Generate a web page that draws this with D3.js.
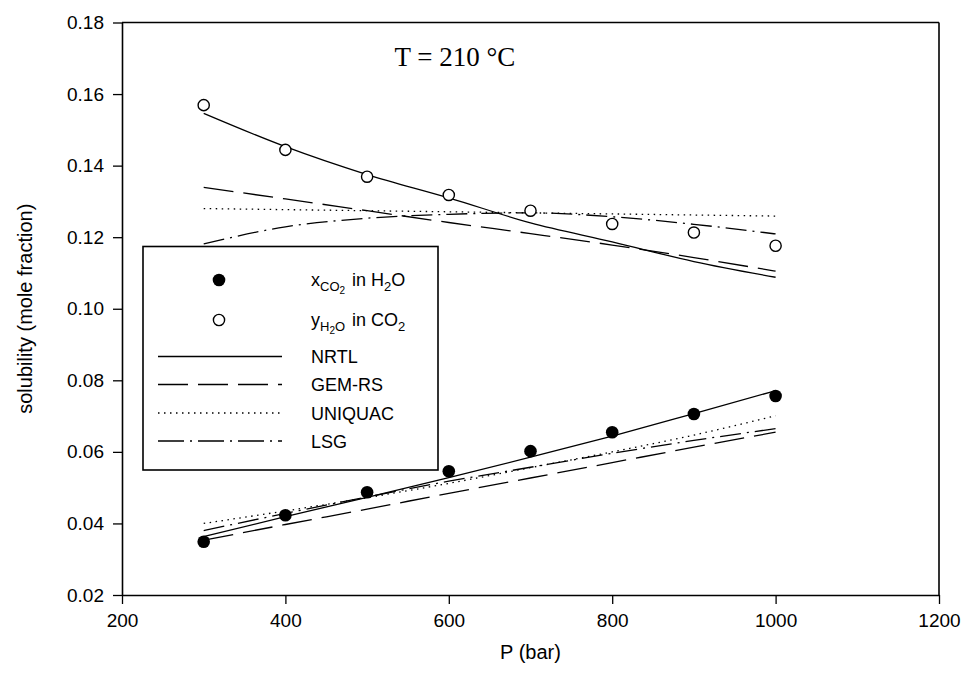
<!DOCTYPE html>
<html>
<head>
<meta charset="utf-8">
<script src="https://cdn.jsdelivr.net/npm/d3@7"></script>
<style>
  html, body { margin: 0; padding: 0; background: #fff; }
  svg { display: block; }
  text { fill: #000; }
  .sans { font-family: "Liberation Sans", Arial, sans-serif; }
  .serif { font-family: "Liberation Serif", "Times New Roman", serif; }
</style>
</head>
<body>
<svg id="chart" width="969" height="692"></svg>
<script>
// Pressure grid (bar) shared by measurements and model curves
const pressures = [300, 400, 500, 600, 700, 800, 900, 1000];

// Measured solubilities
const xCO2inH2O = [0.0349, 0.0423, 0.0487, 0.0546, 0.0602, 0.0655, 0.0706, 0.0756];
const yH2OinCO2 = [0.1569, 0.1444, 0.1369, 0.1318, 0.1274, 0.1237, 0.1213, 0.1176];

// Model predictions, water-rich phase (x CO2)
const nrtlX    = [0.0363, 0.0419, 0.0473, 0.0528, 0.0585, 0.0644, 0.0707, 0.0771];
const gemrsX   = [0.0353, 0.0397, 0.0440, 0.0484, 0.0527, 0.0570, 0.0613, 0.0655];
const uniquacX = [0.0400, 0.0435, 0.0472, 0.0512, 0.0556, 0.0600, 0.0647, 0.0701];
const lsgX     = [0.0380, 0.0428, 0.0474, 0.0518, 0.0557, 0.0596, 0.0632, 0.0665];

// Model predictions, CO2-rich phase (y H2O)
const nrtlY    = [0.1546, 0.1453, 0.1375, 0.1310, 0.1240, 0.1187, 0.1132, 0.1088];
const gemrsY   = [0.1339, 0.1307, 0.1274, 0.1241, 0.1210, 0.1178, 0.1143, 0.1105];
const uniquacY = [0.1280, 0.1277, 0.1274, 0.1271, 0.1268, 0.1265, 0.1262, 0.1259];
const lsgY     = [0.1181, 0.1229, 0.1253, 0.1264, 0.1268, 0.1257, 0.1236, 0.1209];

// Axis ticks
const xTicks = [200, 400, 600, 800, 1000, 1200];
const yTicks = [0.02, 0.04, 0.06, 0.08, 0.10, 0.12, 0.14, 0.16, 0.18];

const svg = d3.select("#chart");
const plotLeft = 122, plotRight = 939, plotTop = 22.5, plotBottom = 595;

const x = d3.scaleLinear().domain([200, 1200]).range([plotLeft, plotRight]);
const y = d3.scaleLinear().domain([0.02, 0.18]).range([plotBottom, plotTop]);

// Line styles for each model
const models = [
  { name: "NRTL",    dash: null,        legendDash: null,        xs: nrtlX,    ys: nrtlY },
  { name: "GEM-RS",  dash: "30,10",     legendDash: "30,10",     xs: gemrsX,   ys: gemrsY },
  { name: "UNIQUAC", dash: "1.5,4.5",   legendDash: "1.5,4.5",   xs: uniquacX, ys: uniquacY },
  { name: "LSG",     dash: "21,6,2,6",  legendDash: "26,6,2,6",  xs: lsgX,     ys: lsgY }
];

const line = d3.line()
  .x(d => x(d[0]))
  .y(d => y(d[1]))
  .curve(d3.curveMonotoneX);

const curves = svg.append("g");
models.forEach(m => {
  [m.xs, m.ys].forEach(vals => {
    curves.append("path")
      .datum(pressures.map((p, i) => [p, vals[i]]))
      .attr("d", line)
      .attr("fill", "none")
      .attr("stroke", "#000")
      .attr("stroke-width", 1.3)
      .attr("stroke-dasharray", m.dash);
  });
});

// Frame: top and right edges
svg.append("line").attr("x1", plotLeft).attr("x2", plotRight).attr("y1", plotTop).attr("y2", plotTop)
  .attr("stroke", "#000").attr("stroke-width", 1.6);
svg.append("line").attr("x1", plotRight).attr("x2", plotRight).attr("y1", plotTop).attr("y2", plotBottom)
  .attr("stroke", "#000").attr("stroke-width", 1.6);

// Axes
const xAxis = svg.append("g").attr("transform", `translate(0,${plotBottom})`)
  .call(d3.axisBottom(x).tickValues(xTicks).tickSize(9).tickSizeOuter(0).tickPadding(10)
    .tickFormat(d3.format("d")));
const yAxis = svg.append("g").attr("transform", `translate(${plotLeft},0)`)
  .call(d3.axisLeft(y).tickValues(yTicks).tickSize(9).tickSizeOuter(0).tickPadding(9)
    .tickFormat(d3.format(".2f")));
[xAxis, yAxis].forEach(a => {
  a.select(".domain").attr("stroke-width", 1.6);
  a.selectAll(".tick line").attr("stroke-width", 1.3);
  a.selectAll(".tick text").attr("class", "sans").attr("font-size", 19);
});

// Axis titles
svg.append("text").attr("class", "sans").attr("x", (plotLeft + plotRight) / 2).attr("y", 659)
  .attr("text-anchor", "middle").attr("font-size", 20).text("P (bar)");
svg.append("text").attr("class", "sans")
  .attr("transform", `translate(32,${(plotTop + plotBottom) / 2}) rotate(-90)`)
  .attr("text-anchor", "middle").attr("font-size", 20).text("solubility (mole fraction)");

// Temperature annotation
svg.append("text").attr("class", "serif").attr("x", 455).attr("y", 66).attr("text-anchor", "middle")
  .attr("font-size", 27).text("T = 210 °C");

// Measured points
const pts = svg.append("g");
pts.selectAll("circle.filled").data(pressures.map((p, i) => [p, xCO2inH2O[i]]))
  .join("circle").attr("class", "filled")
  .attr("cx", d => x(d[0])).attr("cy", d => y(d[1])).attr("r", 6.3)
  .attr("fill", "#000");
pts.selectAll("circle.open").data(pressures.map((p, i) => [p, yH2OinCO2[i]]))
  .join("circle").attr("class", "open")
  .attr("cx", d => x(d[0])).attr("cy", d => y(d[1])).attr("r", 5.6)
  .attr("fill", "#fff").attr("stroke", "#000").attr("stroke-width", 1.4);

// Legend
const lg = svg.append("g");
lg.append("rect").attr("x", 143).attr("y", 246.5).attr("width", 295).attr("height", 223.5)
  .attr("fill", "#fff").attr("stroke", "#000").attr("stroke-width", 1.6);

const tx = 311, fs = 18;
lg.append("circle").attr("cx", 219).attr("cy", 280).attr("r", 6.3).attr("fill", "#000");
lg.append("circle").attr("cx", 219).attr("cy", 320).attr("r", 5.6)
  .attr("fill", "#fff").attr("stroke", "#000").attr("stroke-width", 1.4);

// x_{CO2} in H2O
const t1 = lg.append("text").attr("class", "sans").attr("x", tx).attr("y", 286).attr("font-size", fs);
t1.append("tspan").text("x");
t1.append("tspan").attr("dy", 5).attr("font-size", 13).text("CO");
t1.append("tspan").attr("dy", 3).attr("font-size", 10).text("2");
t1.append("tspan").attr("dy", -8).attr("dx", 2).text(" in H");
t1.append("tspan").attr("dy", 5).attr("font-size", 13).text("2");
t1.append("tspan").attr("dy", -5).text("O");

// y_{H2O} in CO2
const t2 = lg.append("text").attr("class", "sans").attr("x", tx).attr("y", 326).attr("font-size", fs);
t2.append("tspan").text("y");
t2.append("tspan").attr("dy", 5).attr("font-size", 13).text("H");
t2.append("tspan").attr("dy", 3).attr("font-size", 10).text("2");
t2.append("tspan").attr("dy", -3).attr("font-size", 13).text("O");
t2.append("tspan").attr("dy", -5).attr("dx", 2).text(" in CO");
t2.append("tspan").attr("dy", 5).attr("font-size", 13).text("2");

const rowY = [356.5, 384.5, 413, 441];
models.forEach((m, i) => {
  lg.append("line").attr("x1", 158).attr("x2", 282).attr("y1", rowY[i]).attr("y2", rowY[i])
    .attr("stroke", "#000").attr("stroke-width", 1.3)
    .attr("stroke-dasharray", m.legendDash);
  lg.append("text").attr("class", "sans").attr("x", tx).attr("y", rowY[i] + 6.5)
    .attr("font-size", fs).text(m.name);
});
</script>
</body>
</html>
